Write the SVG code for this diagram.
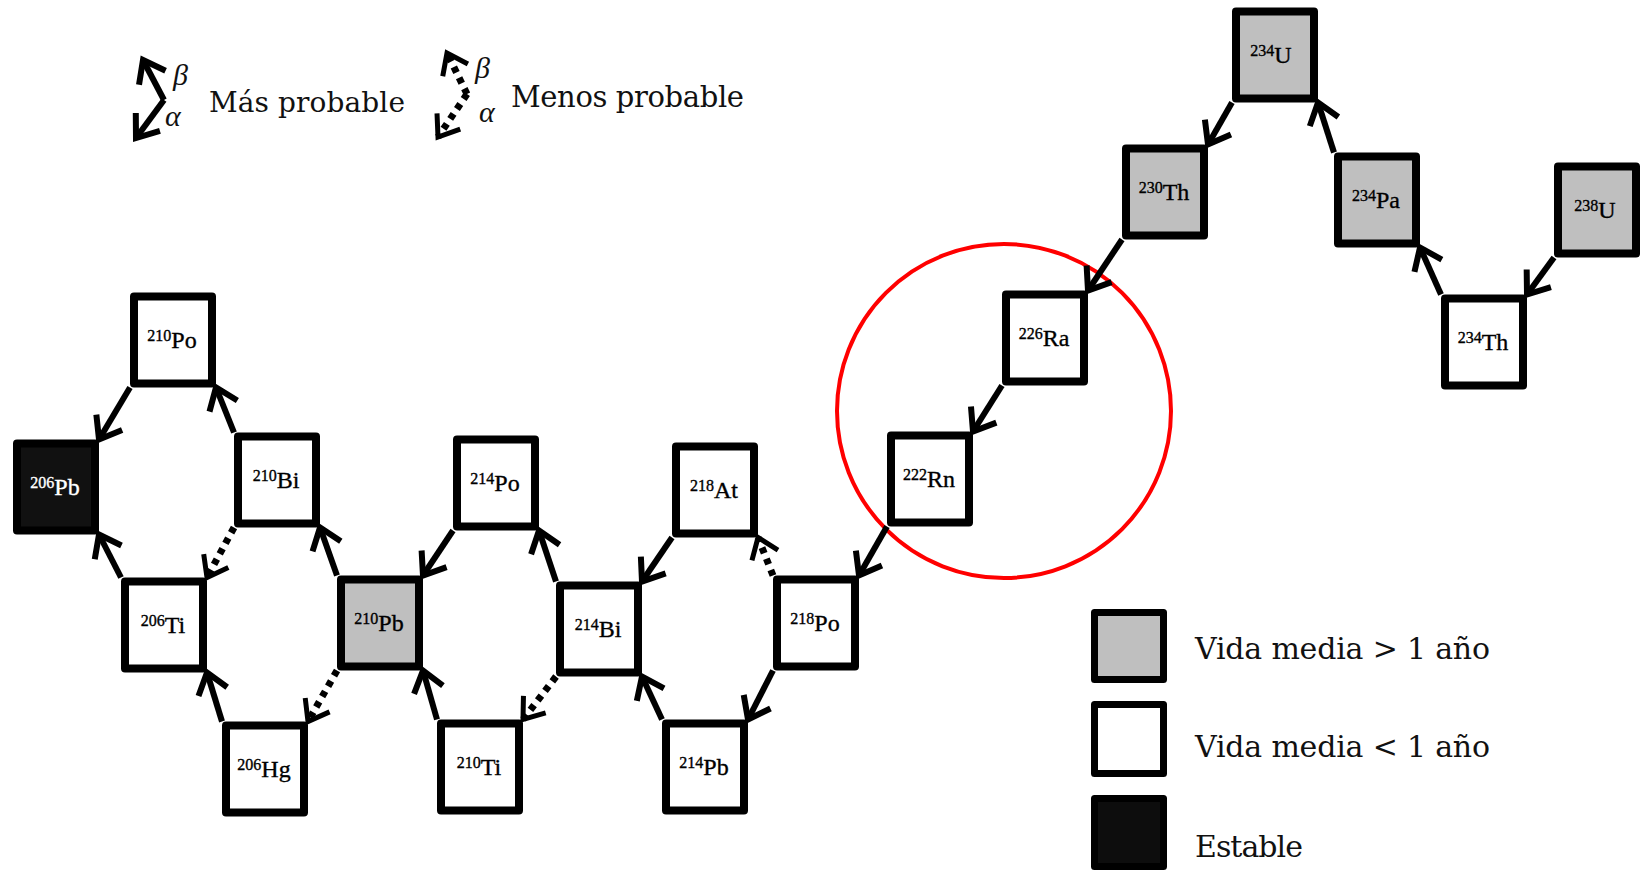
<svg xmlns="http://www.w3.org/2000/svg" width="1640" height="870" viewBox="0 0 1640 870">
  <style>
    .box rect { stroke: #000; stroke-width: 8; stroke-linejoin: round; }
    .long { fill: #bfbfbf; }
    .short { fill: #ffffff; }
    .stable { fill: #111111; }
    .lbl { font-family: "Liberation Serif", "Times New Roman", serif; font-size: 24px; fill: #000; stroke: #000; stroke-width: 0.35; text-anchor: middle; }
    .lbl .iso { font-size: 16px; }
    .lbl.inv { fill: #fff; stroke: #fff; }
    .a { stroke: #000; stroke-width: 6; fill: none; marker-end: url(#head); }
    .d { stroke: #000; stroke-width: 7; fill: none; stroke-dasharray: 6 6; marker-end: url(#headd); }
    .key { font-family: "DejaVu Serif", "Liberation Serif", serif; fill: #111; }
    .greek { font-family: "Liberation Serif", "DejaVu Serif", serif; font-style: italic; font-size: 30px; fill: #111; }
    .lgbox { stroke: #000; stroke-width: 7; stroke-linejoin: round; }
  </style>
  <defs>
    <marker id="head" markerUnits="userSpaceOnUse" markerWidth="60" markerHeight="60" viewBox="-30 -30 60 60" refX="0" refY="0" orient="auto" overflow="visible">
      <path d="M-20,-15 L0,0 L-20,15" fill="none" stroke="#000" stroke-width="6"/>
    </marker>
    <marker id="headd" markerUnits="userSpaceOnUse" markerWidth="60" markerHeight="60" viewBox="-30 -30 60 60" refX="0" refY="0" orient="auto" overflow="visible">
      <path d="M-19,-14 L0,0 L-19,14" fill="none" stroke="#000" stroke-width="5"/>
    </marker>
  </defs>

  <rect width="1640" height="870" fill="#fff"/>

  <!-- decay-mode key -->
  <g id="key-decay">
    <line class="a" x1="164" y1="100" x2="143" y2="60"/>
    <line class="a" x1="164" y1="100" x2="136" y2="138"/>
    <text class="greek" x="173" y="85">β</text>
    <text class="greek" x="165" y="126">α</text>
    <text class="key" x="209" y="112" font-size="28" textLength="196">Más probable</text>

    <path class="d" d="M467,94 L447,53"/>
    <path class="d" d="M467,94 L438,137"/>
    <text class="greek" x="475" y="78">β</text>
    <text class="greek" x="479" y="122">α</text>
    <text class="key" x="511" y="107" font-size="29" textLength="233">Menos probable</text>
  </g>

  <!-- highlight around radium / radon -->
  <circle cx="1004" cy="411" r="167" fill="none" stroke="#ff0000" stroke-width="4"/>

  <!-- decays: solid = most probable, dotted = less probable -->
  <g id="connectors">
    <line class="a" x1="1554" y1="257.5" x2="1527" y2="294.5"/>
    <line class="a" x1="1441" y1="294.5" x2="1420" y2="247.5"/>
    <line class="a" x1="1334" y1="152.5" x2="1318" y2="102.5"/>
    <line class="a" x1="1232" y1="102.5" x2="1208" y2="144.5"/>
    <line class="a" x1="1122" y1="239.5" x2="1088" y2="290.5"/>
    <line class="a" x1="1002" y1="385.5" x2="973" y2="431.5"/>
    <line class="a" x1="887" y1="526.5" x2="859" y2="575.5"/>
    <line class="a" x1="773" y1="670.5" x2="748" y2="719.5"/>
    <line class="d" x1="773" y1="575.5" x2="758" y2="537.5"/>
    <line class="a" x1="672" y1="537.5" x2="642" y2="581.5"/>
    <line class="a" x1="662" y1="719.5" x2="642" y2="676.5"/>
    <line class="a" x1="556" y1="581.5" x2="539" y2="530.5"/>
    <line class="d" x1="556" y1="676.5" x2="523" y2="719.5"/>
    <line class="a" x1="453" y1="530.5" x2="423" y2="575.5"/>
    <line class="a" x1="437" y1="719.5" x2="423" y2="670.5"/>
    <line class="a" x1="337" y1="575.5" x2="320" y2="527.5"/>
    <line class="d" x1="337" y1="670.5" x2="308" y2="721.5"/>
    <line class="a" x1="234" y1="432.5" x2="216" y2="387.5"/>
    <line class="d" x1="234" y1="527.5" x2="207" y2="577.5"/>
    <line class="a" x1="130" y1="387.5" x2="99" y2="439.5"/>
    <line class="a" x1="222" y1="721.5" x2="207" y2="672.5"/>
    <line class="a" x1="121" y1="577.5" x2="99" y2="534.5"/>
  </g>

  <!-- nuclides -->
  <g id="n-238U" class="box"><rect class="long" x="1558" y="166.5" width="78" height="87"/><text class="lbl" x="1595" y="218"><tspan class="iso" dy="-7">238</tspan><tspan dy="7">U</tspan></text></g>
  <g id="n-234Th" class="box"><rect class="short" x="1445" y="298.5" width="78" height="87"/><text class="lbl" x="1483" y="350"><tspan class="iso" dy="-7">234</tspan><tspan dy="7">Th</tspan></text></g>
  <g id="n-234Pa" class="box"><rect class="long" x="1338" y="156.5" width="78" height="87"/><text class="lbl" x="1376" y="208"><tspan class="iso" dy="-7">234</tspan><tspan dy="7">Pa</tspan></text></g>
  <g id="n-234U" class="box"><rect class="long" x="1236" y="11.5" width="78" height="87"/><text class="lbl" x="1271" y="63"><tspan class="iso" dy="-7">234</tspan><tspan dy="7">U</tspan></text></g>
  <g id="n-230Th" class="box"><rect class="long" x="1126" y="148.5" width="78" height="87"/><text class="lbl" x="1164" y="200"><tspan class="iso" dy="-7">230</tspan><tspan dy="7">Th</tspan></text></g>
  <g id="n-226Ra" class="box"><rect class="short" x="1006" y="294.5" width="78" height="87"/><text class="lbl" x="1044" y="346"><tspan class="iso" dy="-7">226</tspan><tspan dy="7">Ra</tspan></text></g>
  <g id="n-222Rn" class="box"><rect class="short" x="891" y="435.5" width="78" height="87"/><text class="lbl" x="929" y="487"><tspan class="iso" dy="-7">222</tspan><tspan dy="7">Rn</tspan></text></g>
  <g id="n-218Po" class="box"><rect class="short" x="777" y="579.5" width="78" height="87"/><text class="lbl" x="815" y="631"><tspan class="iso" dy="-7">218</tspan><tspan dy="7">Po</tspan></text></g>
  <g id="n-218At" class="box"><rect class="short" x="676" y="446.5" width="78" height="87"/><text class="lbl" x="714" y="498"><tspan class="iso" dy="-7">218</tspan><tspan dy="7">At</tspan></text></g>
  <g id="n-214Bi" class="box"><rect class="short" x="560" y="585.5" width="78" height="87"/><text class="lbl" x="598" y="637"><tspan class="iso" dy="-7">214</tspan><tspan dy="7">Bi</tspan></text></g>
  <g id="n-214Pb" class="box"><rect class="short" x="666" y="723.5" width="78" height="87"/><text class="lbl" x="704" y="775"><tspan class="iso" dy="-7">214</tspan><tspan dy="7">Pb</tspan></text></g>
  <g id="n-214Po" class="box"><rect class="short" x="457" y="439.5" width="78" height="87"/><text class="lbl" x="495" y="491"><tspan class="iso" dy="-7">214</tspan><tspan dy="7">Po</tspan></text></g>
  <g id="n-210Ti" class="box"><rect class="short" x="441" y="723.5" width="78" height="87"/><text class="lbl" x="479" y="775"><tspan class="iso" dy="-7">210</tspan><tspan dy="7">Ti</tspan></text></g>
  <g id="n-210Pb" class="box"><rect class="long" x="341" y="579.5" width="78" height="87"/><text class="lbl" x="379" y="631"><tspan class="iso" dy="-7">210</tspan><tspan dy="7">Pb</tspan></text></g>
  <g id="n-206Hg" class="box"><rect class="short" x="226" y="725.5" width="78" height="87"/><text class="lbl" x="264" y="777"><tspan class="iso" dy="-7">206</tspan><tspan dy="7">Hg</tspan></text></g>
  <g id="n-210Bi" class="box"><rect class="short" x="238" y="436.5" width="78" height="87"/><text class="lbl" x="276" y="488"><tspan class="iso" dy="-7">210</tspan><tspan dy="7">Bi</tspan></text></g>
  <g id="n-206Ti" class="box"><rect class="short" x="125" y="581.5" width="78" height="87"/><text class="lbl" x="163" y="633"><tspan class="iso" dy="-7">206</tspan><tspan dy="7">Ti</tspan></text></g>
  <g id="n-210Po" class="box"><rect class="short" x="134" y="296.5" width="78" height="87"/><text class="lbl" x="172" y="348"><tspan class="iso" dy="-7">210</tspan><tspan dy="7">Po</tspan></text></g>
  <g id="n-206Pb" class="box"><rect class="stable" x="17" y="443.5" width="78" height="87"/><text class="lbl inv" x="55" y="495"><tspan class="iso" dy="-7">206</tspan><tspan dy="7">Pb</tspan></text></g>

  <!-- half-life key -->
  <g id="key-halflife">
    <rect class="lgbox" x="1094.5" y="612.5" width="69" height="67" fill="#bfbfbf"/>
    <rect class="lgbox" x="1094.5" y="704.5" width="69" height="69" fill="#fff"/>
    <rect class="lgbox" x="1094.5" y="798.5" width="69" height="68" fill="#0d0d0d"/>
    <text class="key" x="1195" y="659" font-size="30" textLength="295">Vida media &gt; 1 año</text>
    <text class="key" x="1195" y="757" font-size="30" textLength="295">Vida media &lt; 1 año</text>
    <text class="key" x="1195" y="857" font-size="30" textLength="108">Estable</text>
  </g>
</svg>
